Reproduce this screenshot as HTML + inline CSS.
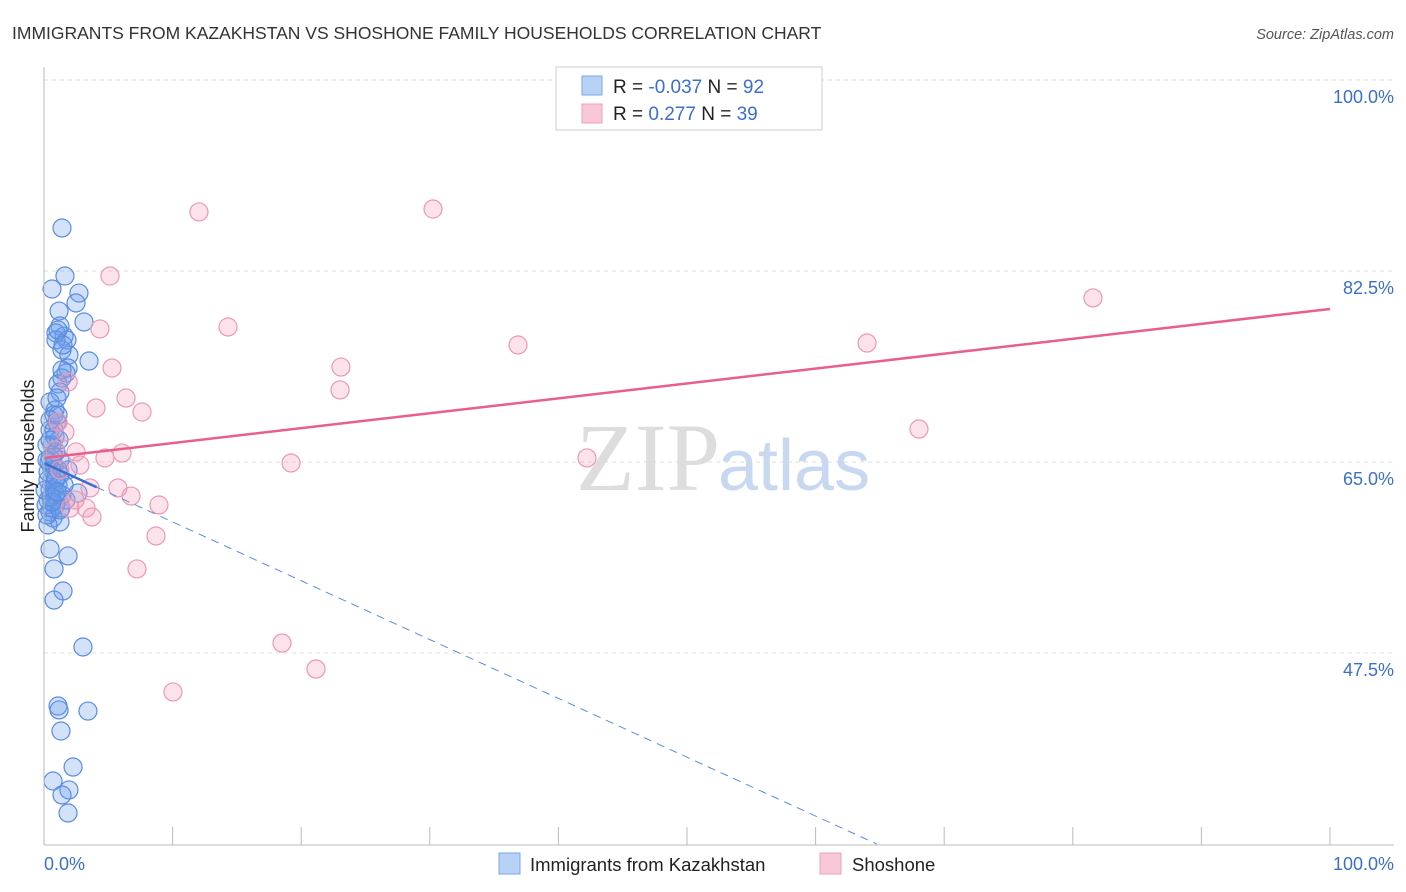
<!DOCTYPE html>
<html><head><meta charset="utf-8"><style>
body{margin:0;background:#fff;font-family:"Liberation Sans",sans-serif}
svg{display:block}
</style></head><body>
<svg width="1406" height="892" xmlns="http://www.w3.org/2000/svg">
<text x="12" y="39" font-size="17.5" fill="#333">IMMIGRANTS FROM KAZAKHSTAN VS SHOSHONE FAMILY HOUSEHOLDS CORRELATION CHART</text>
<text x="1394" y="39" font-size="14.5" fill="#555" font-style="italic" text-anchor="end">Source: ZipAtlas.com</text>
<g id="grid"></g>
<text x="720" y="490" font-size="96" font-family="Liberation Serif,serif" fill="#ddd" text-anchor="end">ZIP</text>
<text x="718" y="490" font-size="72" fill="#c8d8f0">atlas</text>
<g id="pts"></g>
<g id="trends"></g>
<line x1="44" y1="67" x2="44" y2="845" stroke="#bbb"/>
<line x1="44" y1="845" x2="1394" y2="845" stroke="#bbb"/>
<g id="ticks"></g>
<text x="44" y="870" font-size="18" fill="#3a6fd0">0.0%</text>
<text x="1394" y="870" font-size="18" fill="#3a6fd0" text-anchor="end">100.0%</text>
<text transform="translate(34,456) rotate(-90)" font-size="18" fill="#222" text-anchor="middle">Family Households</text>
<g>
<rect x="556" y="67" width="266" height="63" fill="#fff" stroke="#ccc"/>
<rect x="582" y="76" width="20" height="19" fill="#b8d2f5" stroke="#7aa6e8"/>
<rect x="582" y="104" width="20" height="19" fill="#f8c8d8" stroke="#eea0ba"/>
<text x="613" y="93" font-size="19" fill="#222">R = <tspan fill="#3a6fd0">-0.037</tspan>   N = <tspan fill="#3a6fd0">92</tspan></text>
<text x="613" y="120" font-size="19" fill="#222">R =   <tspan fill="#3a6fd0">0.277</tspan>   N = <tspan fill="#3a6fd0">39</tspan></text>
</g>
<g>
<rect x="499" y="853" width="21" height="21" fill="#b8d2f5" stroke="#7aa6e8"/>
<text x="530" y="871" font-size="18.5" fill="#222">Immigrants from Kazakhstan</text>
<rect x="820" y="853" width="21" height="21" fill="#f8c8d8" stroke="#eea0ba"/>
<text x="852" y="871" font-size="18.5" fill="#222">Shoshone</text>
</g>
</svg>
<script>
const yTicks=[100,82.5,65,47.5];
const yTickLabels=["100.0%","82.5%","65.0%","47.5%"];
const xTicks=[10,20,30,40,50,60,70,80,90,100];
const bluePx=[[62,228],[65,276],[52,289],[79,293],[76,303],[59,311],[84,322],[60,326],[56,333],[64,336],[56,340],[67,340],[62,350],[69,355],[89,361],[68,368],[66,373],[62,378],[58,384],[60,392],[50,402],[55,410],[54,415],[57,422],[50,430],[55,437],[52,445],[56,452],[50,458],[60,460],[54,465],[68,470],[60,475],[52,480],[58,485],[50,490],[55,495],[62,495],[78,493],[48,500],[56,505],[50,512],[53,518],[60,522],[48,525],[50,549],[68,556],[54,569],[63,591],[54,600],[83,647],[58,706],[59,710],[88,711],[61,731],[73,767],[53,781],[69,790],[62,795],[68,813],[58,470],[52,470],[48,480],[54,490],[46,505],[58,500],[52,508],[47,445],[50,420],[57,398],[62,370],[58,330],[49,462],[55,482],[61,508],[47,515],[53,455],[59,440],[64,485],[48,472],[56,478],[51,497],[60,510],[45,490],[66,500],[54,430],[58,415],[63,345],[52,502],[47,460],[57,492],[50,440]];
const pinkPx=[[199,212],[433,209],[110,276],[1093,298],[228,327],[100,329],[518,345],[867,343],[112,368],[341,367],[68,382],[340,390],[126,398],[96,408],[142,412],[919,429],[58,422],[65,432],[76,452],[122,453],[105,458],[80,465],[587,458],[291,463],[118,488],[90,488],[131,496],[159,505],[86,508],[70,508],[92,517],[156,536],[137,569],[282,643],[316,669],[173,692],[55,450],[60,470],[75,500]];
// data values (x %, y %)
const blueX=bluePx.map(p=>+((p[0]-44)/12.86).toFixed(2));
const blueY=bluePx.map(p=>+(100-(p[1]-80)/10.914).toFixed(2));
const pinkX=pinkPx.map(p=>+((p[0]-44)/12.86).toFixed(2));
const pinkY=pinkPx.map(p=>+(100-(p[1]-80)/10.914).toFixed(2));
const pinkTrend=[65.37,79.02];
const blueTrend=[64.9,11.0];
const X=v=>44+v*12.86, Y=v=>80+(100-v)*10.914;
const NS="http://www.w3.org/2000/svg";
function mk(t,a,p){const e=document.createElementNS(NS,t);for(const k in a)e.setAttribute(k,a[k]);p.appendChild(e);return e;}
const grid=document.getElementById('grid');
yTicks.forEach((v,i)=>{
 const l=mk('line',{x1:44,x2:1394,y1:Y(v),y2:Y(v),stroke:'#ddd','stroke-dasharray':'4,4'},grid);
 
 
 const t=mk('text',{x:1394,y:Y(v)+23,'font-size':18,fill:'#3a6fd0','text-anchor':'end'},grid);
 t.textContent=yTickLabels[i];
 
 
});
const ticks=document.getElementById('ticks');
xTicks.forEach(v=>{
 const l=mk('line',{x1:X(v),x2:X(v),y1:827,y2:845,stroke:'#bbb'},ticks);
 
 
});
const pts=document.getElementById('pts');
blueX.forEach((x,i)=>{
 const c=mk('circle',{cx:X(x),cy:Y(blueY[i]),r:9,fill:'rgba(110,160,235,0.3)',stroke:'#5a8be0','stroke-width':1.2},pts);
 
 
});
pinkX.forEach((x,i)=>{
 const c=mk('circle',{cx:X(x),cy:Y(pinkY[i]),r:9,fill:'rgba(245,160,190,0.3)',stroke:'#ec98b4','stroke-width':1.2},pts);
 
 
});
const tr=document.getElementById('trends');
const pl=mk('line',{x1:X(0),y1:Y(pinkTrend[0]),x2:X(100),y2:Y(pinkTrend[1]),stroke:'#e8608a','stroke-width':2.5},tr);


const bY=x=>blueTrend[0]+(blueTrend[1]-blueTrend[0])*x/100;
const bs=mk('line',{x1:X(0),y1:Y(bY(0)),x2:X(4.1),y2:Y(bY(4.1)),stroke:'#3a6fd0','stroke-width':2.5},tr);


const xEnd=(30-blueTrend[0])/(blueTrend[1]-blueTrend[0])*100;
const bd=mk('line',{x1:X(4.1),y1:Y(bY(4.1)),x2:X(xEnd),y2:Y(30),stroke:'#5a8be0','stroke-width':1,'stroke-dasharray':'8,6'},tr);


</script>
</body></html>
